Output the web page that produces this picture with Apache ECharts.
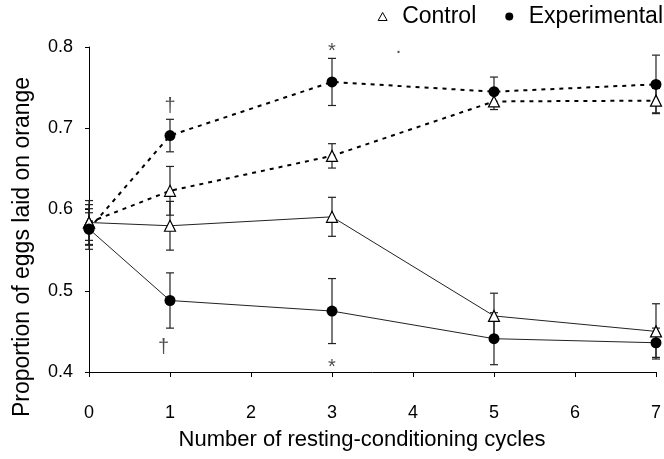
<!DOCTYPE html>
<html>
<head>
<meta charset="utf-8">
<script src="https://cdn.jsdelivr.net/npm/echarts@6/dist/echarts.min.js"></script>
<style>html,body{margin:0;padding:0;background:#fff}#c{width:664px;height:459px}</style>
</head>
<body>
<div id="c"></div>
<script>
// Data
var cycles = [0, 1, 3, 5, 7];
var controlDashed = [0.584, 0.623, 0.666, 0.733, 0.734];
var controlDashedErr = [0.027, 0.030, 0.015, 0.010, 0.015];
var experimentalDashed = [0.576, 0.691, 0.757, 0.745, 0.754];
var experimentalDashedErr = [0.025, 0.020, 0.029, 0.018, 0.036];
var controlSolid = [0.584, 0.580, 0.591, 0.469, 0.450];
var controlSolidErr = [0.022, 0.030, 0.024, 0.028, 0.034];
var experimentalSolid = [0.576, 0.488, 0.475, 0.441, 0.436];
var experimentalSolidErr = [0.020, 0.034, 0.040, 0.032, 0.018];
var noteX = [1, 0.92, 3, 3, 3.82];
var noteY = [0.727, 0.430, 0.795, 0.405, 0.799];
var noteText = ['†', '†', '*', '*', '.'];
var yTicks = [0.4, 0.5, 0.6, 0.7, 0.8];
var xTitle = 'Number of resting-conditioning cycles';
var yTitle = 'Proportion of eggs laid on orange';

var FONT = 'Liberation Sans, Arial, sans-serif';

function pts(ys) { return cycles.map(function (x, i) { return [x, ys[i]]; }); }
function errPts(ys, es) { return cycles.map(function (x, i) { return [x, ys[i], es[i]]; }); }

function errorSeries(ys, es) {
  return {
    type: 'custom',
    silent: true,
    z: 1,
    data: errPts(ys, es),
    renderItem: function (params, api) {
      var x = api.value(0), y = api.value(1), e = api.value(2);
      var lo = api.coord([x, y - e]);
      var hi = api.coord([x, y + e]);
      var w = 4;
      var st = { stroke: '#222', lineWidth: 1.2 };
      return {
        type: 'group',
        children: [
          { type: 'line', shape: { x1: lo[0], y1: lo[1], x2: hi[0], y2: hi[1] }, style: st },
          { type: 'line', shape: { x1: lo[0] - w, y1: lo[1], x2: lo[0] + w, y2: lo[1] }, style: st },
          { type: 'line', shape: { x1: hi[0] - w, y1: hi[1], x2: hi[0] + w, y2: hi[1] }, style: st }
        ]
      };
    }
  };
}

var triStyle = { color: '#fff', borderColor: '#000', borderWidth: 1.2 };
var dotStyle = { color: '#000' };

var chart = echarts.init(document.getElementById('c'), null, { renderer: 'canvas' });
chart.setOption({
  animation: false,
  backgroundColor: '#fff',
  grid: { left: 89, right: 5, top: 47, bottom: 87 },
  legend: {
    right: 0,
    top: 0,
    padding: [5, 1, 5, 5],
    itemWidth: 9,
    itemHeight: 8,
    itemGap: 29,
    textStyle: { fontFamily: FONT, fontSize: 23, color: '#000', padding: [0, 0, 0, 10] },
    data: [
      { name: 'Control', icon: 'triangle', itemStyle: { color: '#fff', borderColor: '#000', borderWidth: 1 } },
      { name: 'Experimental', icon: 'circle', itemStyle: { color: '#000' } }
    ]
  },
  xAxis: {
    type: 'value', min: 0, max: 7, interval: 1,
    axisLine: { lineStyle: { color: '#000', width: 1 } },
    axisTick: { length: 5, lineStyle: { color: '#000' } },
    axisLabel: { margin: 32, fontFamily: FONT, fontSize: 18, color: '#000' },
    splitLine: { show: false }
  },
  yAxis: {
    type: 'value', min: yTicks[0], max: yTicks[yTicks.length - 1], interval: 0.1,
    axisLine: { show: true, lineStyle: { color: '#000', width: 1 } },
    axisTick: { show: true, length: 4, lineStyle: { color: '#000' } },
    axisLabel: { margin: 16, fontFamily: FONT, fontSize: 18, color: '#000',
      formatter: function (v) { return v.toFixed(1); } },
    splitLine: { show: false }
  },
  graphic: [
    { type: 'text', x: 362, y: 440, style: { text: xTitle, fontFamily: FONT, fontSize: 22, fill: '#000', align: 'center', verticalAlign: 'middle' } },
    { type: 'text', x: 23, y: 247, rotation: Math.PI / 2, style: { text: yTitle, fontFamily: FONT, fontSize: 23, fill: '#000', align: 'center', verticalAlign: 'middle' } }
  ],
  series: [
    errorSeries(controlDashed, controlDashedErr),
    errorSeries(experimentalDashed, experimentalDashedErr),
    errorSeries(controlSolid, controlSolidErr),
    errorSeries(experimentalSolid, experimentalSolidErr),
    { name: 'Control', type: 'line', data: pts(controlDashed), z: 3,
      symbol: 'triangle', symbolSize: 11, itemStyle: triStyle,
      lineStyle: { color: '#000', width: 2, type: [4, 5] } },
    { name: 'Experimental', type: 'line', data: pts(experimentalDashed), z: 3,
      symbol: 'circle', symbolSize: 11, itemStyle: dotStyle,
      lineStyle: { color: '#000', width: 2, type: [4, 5] } },
    { name: 'Control', type: 'line', data: pts(controlSolid), z: 3,
      symbol: 'triangle', symbolSize: 11, itemStyle: triStyle,
      lineStyle: { color: '#222', width: 1 } },
    { name: 'Experimental', type: 'line', data: pts(experimentalSolid), z: 3,
      symbol: 'circle', symbolSize: 11, itemStyle: dotStyle,
      lineStyle: { color: '#222', width: 1 } },
    { type: 'scatter', silent: true, clip: false, symbolSize: 1, z: 4,
      itemStyle: { color: 'rgba(0,0,0,0)' },
      data: noteX.map(function (x, i) { return [x, noteY[i], noteText[i]]; }),
      label: { show: true, position: 'inside', fontFamily: FONT, fontSize: 20, color: '#222',
        formatter: function (p) { return p.data[2]; } } }
  ]
});
</script>
</body>
</html>
